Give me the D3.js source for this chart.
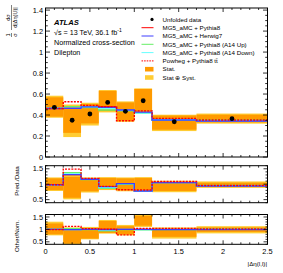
<!DOCTYPE html>
<html>
<head>
<meta charset="utf-8">
<script src="https://cdn.jsdelivr.net/npm/d3@7"></script>
<style>
  body { margin: 0; background: #fff; }
  svg { display: block; font-family: "Liberation Sans", Arial, sans-serif; }
</style>
</head>
<body>
<svg id="chart" width="283" height="273"></svg>
<script>
// bin edges in |delta eta(l,l)|
const binEdges = [0, 0.2, 0.4, 0.6, 0.8, 1.0, 1.2, 1.7, 2.5];

// main panel: normalised cross-section
const dataVals = [0.473, 0.350, 0.410, 0.520, 0.435, 0.536, 0.336, 0.365];
const statLo = [0.384, 0.230, 0.320, 0.438, 0.346, 0.438, 0.260, 0.330];
const statHi = [0.569, 0.486, 0.505, 0.630, 0.520, 0.648, 0.395, 0.403];
const totLo = [0.374, 0.190, 0.300, 0.425, 0.335, 0.425, 0.247, 0.318];
const totHi = [0.584, 0.500, 0.517, 0.638, 0.530, 0.654, 0.403, 0.414];
const mgPythia = [0.464, 0.468, 0.476, 0.478, 0.445, 0.425, 0.355, 0.346];
const mgHerwig = [0.462, 0.463, 0.478, 0.473, 0.448, 0.428, 0.352, 0.343];
const a14Up = [0.466, 0.480, 0.472, 0.448, 0.440, 0.418, 0.352, 0.350];
const a14Down = [0.464, 0.465, 0.478, 0.462, 0.446, 0.420, 0.355, 0.346];
const powheg = [0.462, 0.527, 0.492, 0.480, 0.345, 0.440, 0.368, 0.352];

// Pred./Data panel
const r1StatLo = [0.81, 0.56, 0.77, 0.84, 0.80, 0.80, 0.78, 0.92];
const r1StatHi = [1.19, 1.24, 1.19, 1.20, 1.19, 1.20, 1.07, 1.05];
const r1TotLo = [0.78, 0.51, 0.73, 0.81, 0.77, 0.77, 0.74, 0.88];
const r1TotHi = [1.22, 1.30, 1.22, 1.23, 1.22, 1.23, 1.11, 1.09];
const r1Pythia = [0.98, 1.31, 1.16, 0.92, 1.01, 0.79, 1.05, 0.95];
const r1Herwig = [0.98, 1.31, 1.16, 0.92, 1.02, 0.78, 1.05, 0.94];
const r1Up = [0.98, 1.37, 1.15, 0.87, 1.00, 0.78, 1.05, 0.96];
const r1Down = [0.98, 1.33, 1.16, 0.89, 1.02, 0.78, 1.05, 0.95];
const r1Powheg = [0.98, 1.49, 1.19, 0.93, 0.82, 0.81, 1.09, 0.96];

// Other/Nom. panel
const r2StatLo = [0.80, 0.43, 0.63, 0.86, 0.80, 1.15, 0.70, 0.90];
const r2StatHi = [1.24, 1.04, 1.06, 1.34, 1.13, 1.55, 1.00, 1.08];
const r2TotLo = [0.76, 0.38, 0.60, 0.83, 0.76, 1.10, 0.63, 0.84];
const r2TotHi = [1.31, 1.08, 1.10, 1.38, 1.18, 1.65, 1.08, 1.13];
const r2Pythia = [1, 1, 1, 1, 1, 1, 1, 1];
const r2Herwig = [1.00, 0.99, 1.00, 0.99, 1.00, 1.00, 0.99, 0.99];
const r2Up = [1.00, 1.03, 0.99, 0.94, 0.99, 0.98, 0.99, 1.01];
const r2Down = [1.00, 0.99, 1.00, 0.97, 1.00, 0.99, 1.00, 1.00];
const r2Powheg = [0.99, 1.12, 1.03, 1.01, 0.78, 1.04, 1.04, 1.02];

const xTicks = [0, 0.5, 1, 1.5, 2, 2.5];
const mainTicks = [0, 0.2, 0.4, 0.6, 0.8, 1, 1.2, 1.4];
const ratioTicks = [0.5, 1, 1.5];

const legendLabels = ["Unfolded data", "MG5_aMC + Pythia8", "MG5_aMC + Herwig7",
  "MG5_aMC + Pythia8 (A14 Up)", "MG5_aMC + Pythia8 (A14 Down)",
  "Powheg + Pythia8 tt\u0304", "Stat.", "Stat \u2295 Syst."];

const colStat = "#ff9a00";
const colTot = "#ffcc33";
const colRed = "#ff0000";
const colBlue = "#3f3fff";
const colGreen = "#66ee66";
const colCyan = "#66ffff";

const svg = d3.select("#chart");

const x = d3.scaleLinear().domain([0, 2.5]).range([45.5, 267.5]);
const yMain = d3.scaleLinear().domain([0, 1.42]).range([157, 8]);
const yR1 = d3.scaleLinear().domain([0.4, 1.6]).range([202.7, 165.7]);
const yR2 = d3.scaleLinear().domain([0.4, 1.6]).range([244.3, 214.5]);

const panels = [
  { y: yMain, id: "cMain" },
  { y: yR1, id: "cR1" },
  { y: yR2, id: "cR2" }
];

const defs = svg.append("defs");
panels.forEach(p => {
  const r = p.y.range();
  defs.append("clipPath").attr("id", p.id)
    .append("rect")
    .attr("x", x(0)).attr("y", r[1])
    .attr("width", x(2.5) - x(0)).attr("height", r[0] - r[1]);
});

function bins(lo, hi) {
  return lo.map((v, i) => ({ x0: binEdges[i], x1: binEdges[i + 1], lo: v, hi: hi[i] }));
}

function drawBand(g, y, lo, hi, color) {
  g.selectAll(null).data(bins(lo, hi)).enter().append("rect")
    .attr("x", d => x(d.x0))
    .attr("width", d => x(d.x1) - x(d.x0))
    .attr("y", d => y(d.hi))
    .attr("height", d => y(d.lo) - y(d.hi))
    .attr("fill", color);
}

function drawStep(g, y, vals, color, dash) {
  const pts = vals.map((v, i) => [binEdges[i], v]);
  pts.push([binEdges[binEdges.length - 1], vals[vals.length - 1]]);
  const line = d3.line().x(d => x(d[0])).y(d => y(d[1])).curve(d3.curveStepAfter);
  g.append("path")
    .attr("d", line(pts))
    .attr("fill", "none")
    .attr("stroke", color)
    .attr("stroke-width", 1.4)
    .attr("stroke-dasharray", dash || null);
}

function drawFrame(y, majors, minorStep, majLen, minLen) {
  const g = svg.append("g");
  const r = y.range();
  const d = y.domain();
  const xl = x(0), xr = x(2.5);
  // y ticks left and right
  const yMinor = d3.range(Math.ceil(d[0] / minorStep) * minorStep, d[1] + 1e-9, minorStep);
  yMinor.forEach(v => {
    const isMaj = majors.some(m => Math.abs(m - v) < 1e-6);
    const len = isMaj ? majLen : minLen;
    g.append("line").attr("x1", xl).attr("x2", xl + len).attr("y1", y(v)).attr("y2", y(v));
    g.append("line").attr("x1", xr).attr("x2", xr - len).attr("y1", y(v)).attr("y2", y(v));
  });
  // x ticks top and bottom
  d3.range(0, 2.5001, 0.1).forEach(v => {
    const isMaj = Math.abs(v * 2 - Math.round(v * 2)) < 1e-6;
    const len = isMaj ? 4 : 2;
    g.append("line").attr("x1", x(v)).attr("x2", x(v)).attr("y1", r[0]).attr("y2", r[0] - len);
    g.append("line").attr("x1", x(v)).attr("x2", x(v)).attr("y1", r[1]).attr("y2", r[1] + len);
  });
  g.selectAll("line").attr("stroke", "#000").attr("stroke-width", 0.8);
  g.append("rect").attr("x", xl).attr("y", r[1]).attr("width", xr - xl).attr("height", r[0] - r[1])
    .attr("fill", "none").attr("stroke", "#000").attr("stroke-width", 1);
  g.selectAll(null).data(majors).enter().append("text")
    .attr("x", xl - 2.5).attr("y", v => y(v) + 2.6)
    .attr("text-anchor", "end").attr("font-size", 7.4).attr("fill", "#000")
    .text(v => v);
}

// main panel
const gMain = svg.append("g").attr("clip-path", "url(#cMain)");
drawBand(gMain, yMain, totLo, totHi, colTot);
drawBand(gMain, yMain, statLo, statHi, colStat);
drawStep(gMain, yMain, mgPythia, colRed);
drawStep(gMain, yMain, a14Up, colGreen);
drawStep(gMain, yMain, a14Down, colCyan);
drawStep(gMain, yMain, mgHerwig, colBlue);
drawStep(gMain, yMain, powheg, colRed, "2,1.2");
gMain.selectAll(null).data(dataVals).enter().append("circle")
  .attr("cx", (d, i) => x((binEdges[i] + binEdges[i + 1]) / 2))
  .attr("cy", d => yMain(d))
  .attr("r", 2.4).attr("fill", "#000");
drawFrame(yMain, mainTicks, 0.05, 4.5, 2.3);

// Pred./Data panel
const gR1 = svg.append("g").attr("clip-path", "url(#cR1)");
drawBand(gR1, yR1, r1TotLo, r1TotHi, colTot);
drawBand(gR1, yR1, r1StatLo, r1StatHi, colStat);
drawStep(gR1, yR1, r1Pythia, colRed);
drawStep(gR1, yR1, r1Up, colGreen);
drawStep(gR1, yR1, r1Down, colCyan);
drawStep(gR1, yR1, r1Herwig, colBlue);
drawStep(gR1, yR1, r1Powheg, colRed, "2,1.2");
drawFrame(yR1, ratioTicks, 0.1, 4, 2);

// Other/Nom. panel
const gR2 = svg.append("g").attr("clip-path", "url(#cR2)");
drawBand(gR2, yR2, r2TotLo, r2TotHi, colTot);
drawBand(gR2, yR2, r2StatLo, r2StatHi, colStat);
drawStep(gR2, yR2, r2Pythia, colRed);
drawStep(gR2, yR2, r2Up, colGreen);
drawStep(gR2, yR2, r2Down, colCyan);
drawStep(gR2, yR2, r2Herwig, colBlue);
drawStep(gR2, yR2, r2Powheg, colRed, "2,1.2");
drawFrame(yR2, ratioTicks, 0.1, 4, 2);

// x tick labels
svg.selectAll(null).data(xTicks).enter().append("text")
  .attr("x", d => x(d)).attr("y", 253.5)
  .attr("text-anchor", "middle").attr("font-size", 7.4)
  .text(d => d);
svg.append("text").attr("x", 267).attr("y", 266)
  .attr("text-anchor", "end").attr("font-size", 6.2)
  .text("|\u0394\u03b7(l,l)|");

// ratio titles
svg.append("text").attr("transform", "translate(19,181) rotate(-90)")
  .attr("text-anchor", "middle").attr("font-size", 6.2).text("Pred./Data");
svg.append("text").attr("transform", "translate(19,236) rotate(-90)")
  .attr("text-anchor", "middle").attr("font-size", 6.2).text("Other/Nom.");

// main y title as two fractions
const yt = svg.append("g").attr("transform", "translate(11.5,37) rotate(-90)")
  .attr("font-size", 5.6).attr("text-anchor", "middle");
yt.append("text").attr("x", 2).attr("y", -1.6).text("1");
yt.append("line").attr("x1", 0).attr("x2", 4).attr("y1", 0).attr("y2", 0);
yt.append("text").attr("x", 2).attr("y", 5).text("\u03c3");
yt.append("text").attr("x", 19.5).attr("y", -1.6).text("d\u03c3");
yt.append("line").attr("x1", 7).attr("x2", 32).attr("y1", 0).attr("y2", 0);
yt.append("text").attr("x", 19.5).attr("y", 5).text("d|\u0394\u03b7(l,l)|");
yt.selectAll("line").attr("stroke", "#000").attr("stroke-width", 0.5);

// labels in the main panel
svg.append("text").attr("x", 54).attr("y", 24.8)
  .attr("font-size", 7.6).attr("font-weight", "bold").attr("font-style", "italic")
  .text("ATLAS");
const lumi = svg.append("text").attr("x", 54).attr("y", 34.5).attr("font-size", 7.2);
lumi.append("tspan").text("\u221as = 13 TeV, 36.1 fb");
lumi.append("tspan").attr("dy", -2.8).attr("font-size", 5).text("-1");
svg.append("text").attr("x", 54).attr("y", 44.6).attr("font-size", 7.2).text("Normalized cross-section");
svg.append("text").attr("x", 54).attr("y", 54.6).attr("font-size", 7.2).text("Dilepton");

// legend
const legY = d3.range(legendLabels.length).map(i => 19.4 + i * 8.3);
const leg = svg.append("g");
legendLabels.forEach((lab, i) => {
  const cy = legY[i];
  if (i === 0) {
    leg.append("circle").attr("cx", 152).attr("cy", cy).attr("r", 1.6).attr("fill", "#000");
  } else if (i <= 5) {
    const cols = [null, colRed, colBlue, colGreen, colCyan, colRed];
    leg.append("line").attr("x1", 141.5).attr("x2", 153.5).attr("y1", cy).attr("y2", cy)
      .attr("stroke", cols[i]).attr("stroke-width", 1)
      .attr("stroke-dasharray", i === 5 ? "1.6,1" : null);
  } else {
    leg.append("rect").attr("x", 145).attr("y", cy - 2.3).attr("width", 8.5).attr("height", 4.6)
      .attr("fill", i === 6 ? colStat : colTot);
  }
  leg.append("text").attr("x", 162.6).attr("y", cy + 2.2).attr("font-size", 6.2).text(lab);
});
</script>
</body>
</html>
